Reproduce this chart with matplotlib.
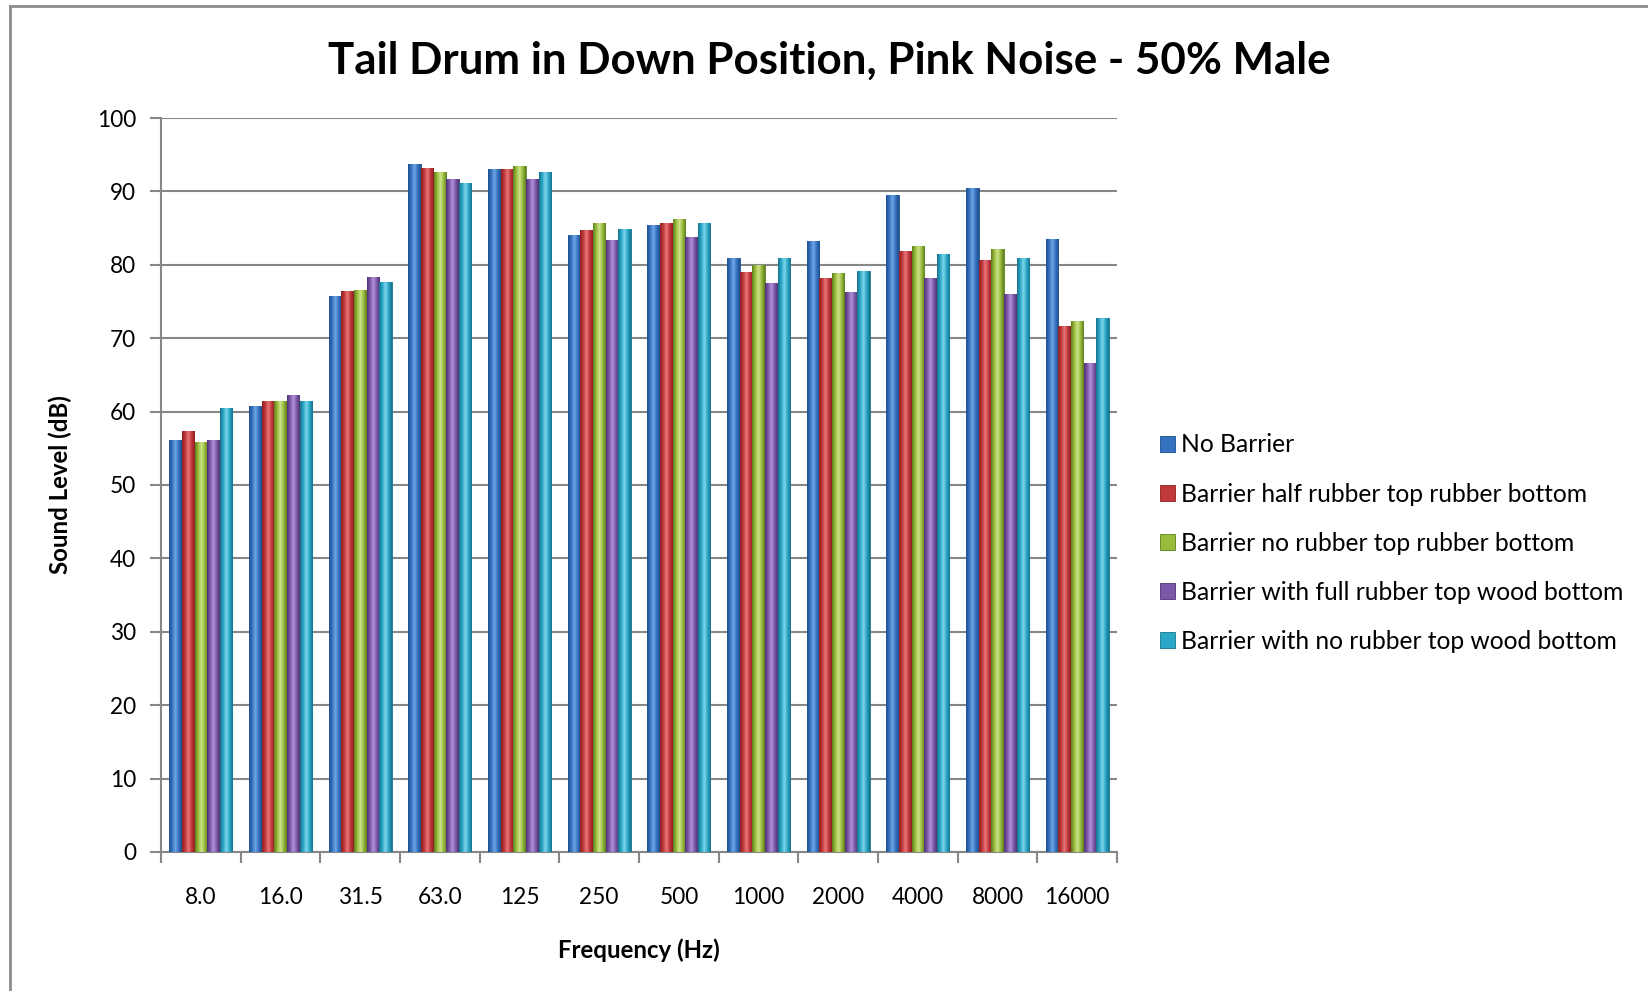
import numpy as np
import matplotlib
matplotlib.use("Agg")
import matplotlib.pyplot as plt
from matplotlib.colors import LinearSegmentedColormap
from matplotlib.lines import Line2D

# frequency bands
freqs = ["8.0", "16.0", "31.5", "63.0", "125", "250", "500", "1000", "2000", "4000", "8000", "16000"]

# sound levels in dB, one list per setup
no_barrier = [56.1, 60.8, 75.8, 93.7, 93.1, 84.0, 85.4, 80.9, 83.3, 89.5, 90.4, 83.5]
half_rubber_top = [57.3, 61.5, 76.5, 93.2, 93.0, 84.7, 85.7, 79.0, 78.2, 81.9, 80.7, 71.6]
no_rubber_top = [55.8, 61.5, 76.6, 92.7, 93.5, 85.7, 86.3, 80.0, 78.9, 82.5, 82.2, 72.4]
full_rubber_wood = [56.1, 62.3, 78.3, 91.7, 91.7, 83.4, 83.8, 77.5, 76.3, 78.2, 76.0, 66.6]
no_rubber_wood = [60.5, 61.5, 77.6, 91.2, 92.7, 84.9, 85.7, 80.9, 79.2, 81.5, 80.9, 72.8]

series_names = ["No Barrier",
                "Barrier half rubber top rubber bottom",
                "Barrier no rubber top rubber bottom",
                "Barrier with full rubber top wood bottom",
                "Barrier with no rubber top wood bottom"]

plt.rcParams['font.family'] = ['Lato', 'DejaVu Sans']

# (dark edge, main, light centre)
colours = [("#1f4f8f", "#3572bf", "#6fa6e6"),
           ("#8e1f20", "#c0383a", "#e8787a"),
           ("#5e7f1f", "#98bb3c", "#cde48a"),
           ("#4e3275", "#7e58a8", "#b293d6"),
           ("#16738e", "#2aa6c6", "#7fd6ec")]

fig = plt.figure(figsize=(16.48, 9.91), dpi=100)
ax = fig.add_axes([0.0977, 0.1403, 0.5801, 0.7406])

all_data = [no_barrier, half_rubber_top, no_rubber_top, full_rubber_wood, no_rubber_wood]
x = np.arange(len(freqs))
bw = 0.155
step = 0.158
grad = np.linspace(0, 1, 64).reshape(1, -1)

for i, (vals, name, cols) in enumerate(zip(all_data, series_names, colours)):
    offs = (i - 2) * step
    bars = ax.bar(x + offs, vals, width=bw, color=cols[1], edgecolor=cols[0],
                  linewidth=0.6, label=name, zorder=3)
    cmap = LinearSegmentedColormap.from_list("c%d" % i, [cols[0], cols[1], cols[2], cols[1], cols[0]])
    for b in bars:
        x0, y0 = b.get_x(), b.get_y()
        im = ax.imshow(grad, extent=(x0, x0 + b.get_width(), y0, y0 + b.get_height()),
                       aspect='auto', cmap=cmap, zorder=3.5, interpolation='bilinear')
        im.set_clip_path(b)

ax.set_xlim(-0.5, len(freqs) - 0.5)
ax.set_ylim(0, 100)
ax.set_yticks(np.arange(0, 101, 10))
ax.yaxis.grid(True, color="#878787", linewidth=1.5)
ax.set_axisbelow(True)

ax.set_xticks(x)
ax.set_xticklabels(freqs, fontsize=16.3)
ax.set_xticks(np.arange(-0.5, len(freqs), 1), minor=True)
ax.tick_params(axis='x', which='major', length=0, pad=25)
ax.tick_params(axis='x', which='minor', length=8, width=1.5, color="#878787", direction='out')
ax.tick_params(axis='y', labelsize=16.3, length=8, width=1.5, color="#878787", pad=10)

for s in ["top", "right"]:
    ax.spines[s].set_visible(False)
for s in ["left", "bottom"]:
    ax.spines[s].set_color("#878787")
    ax.spines[s].set_linewidth(1.5)

ax.set_xlabel("Frequency (Hz)", fontsize=17.3, fontweight='bold', labelpad=22)
ax.set_ylabel("Sound Level (dB)", fontsize=17.3, fontweight='bold', labelpad=18)

fig.text(0.503, 0.939, "Tail Drum in Down Position, Pink Noise - 50% Male",
         fontsize=31.6, fontweight='bold', ha='center', va='center')

ax.legend(loc='center left', bbox_to_anchor=(0.6905, 0.452), bbox_transform=fig.transFigure,
          frameon=False, fontsize=17.7, handlelength=0.6, handleheight=0.6,
          handletextpad=0.25, labelspacing=1.06)

# chart area border (only left and top are visible in the original)
fig.add_artist(Line2D([0.0061, 0.0061], [0.0, 0.9935], color="#8c8c8c", linewidth=2))
fig.add_artist(Line2D([0.0061, 1.0], [0.9935, 0.9935], color="#8c8c8c", linewidth=2))

fig.savefig("out.png", dpi=100)
